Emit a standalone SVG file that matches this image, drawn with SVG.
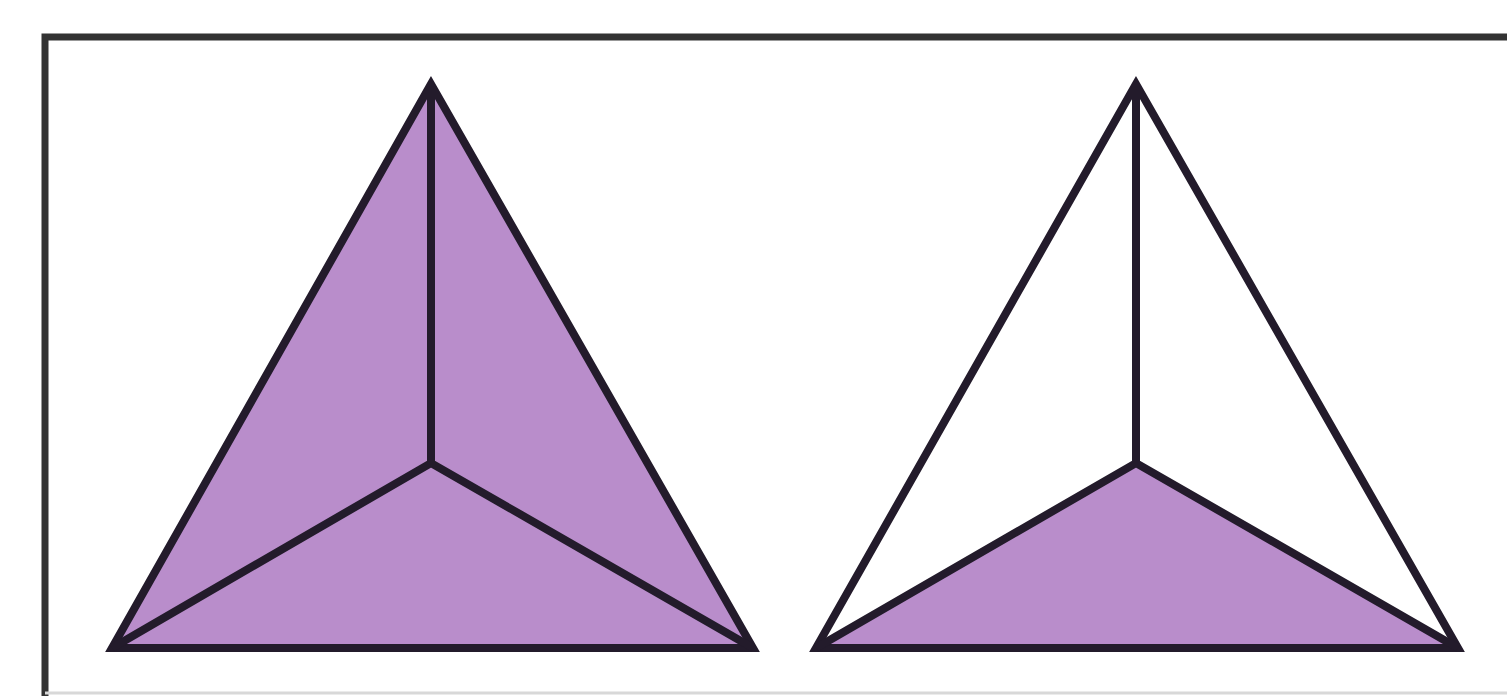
<svg xmlns="http://www.w3.org/2000/svg" width="1507" height="696" viewBox="0 0 1507 696">
<style>
.edge{fill:none;stroke:#231b2b;stroke-width:8;stroke-linejoin:miter;stroke-miterlimit:10;stroke-linecap:butt}
.face{fill:#b98dcb;stroke:none}
.frame{fill:none;stroke:#333;stroke-width:7}
</style>
<rect x="0" y="0" width="1507" height="696" fill="#ffffff"/>
<g id="frame">
<path class="frame" d="M45,696 V37 H1507"/>
<line x1="45" y1="693" x2="1507" y2="693" stroke="#d8d8d8" stroke-width="3"/>
</g>
<g id="tetra-left">
<polygon class="face" points="431,84 112,648 753,648"/>
<polygon class="edge" points="431,84 112,648 753,648"/>
<path class="edge" d="M431,84 V463 M112,648 L431,463 L753,648"/>
</g>
<g id="tetra-right">
<polygon class="face" points="816,648 1136,463 1458,648"/>
<polygon class="edge" points="1136,84 816,648 1458,648"/>
<path class="edge" d="M1136,84 V463 M816,648 L1136,463 L1458,648"/>
</g>
</svg>
